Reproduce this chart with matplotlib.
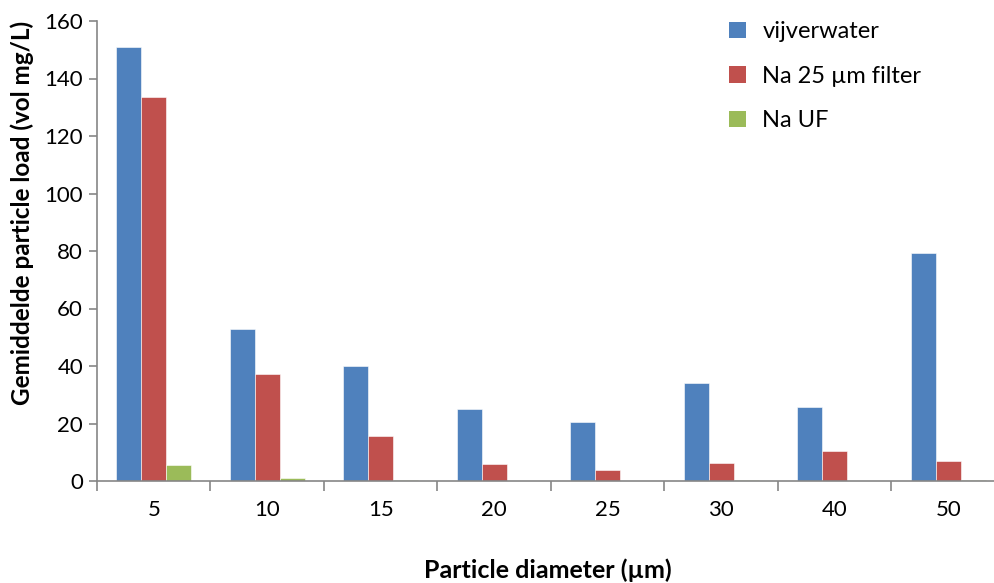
import numpy as np
import matplotlib
matplotlib.use("Agg")
import matplotlib.pyplot as plt
from matplotlib.patches import Patch

# Particle load per size class (vol mg/L)
categories = ["5", "10", "15", "20", "25", "30", "40", "50"]
vijverwater = [151.0, 52.9, 40.0, 25.0, 20.4, 34.0, 25.8, 79.3]
na_25um = [133.5, 37.3, 15.5, 5.9, 3.7, 6.2, 10.5, 7.0]
na_uf = [5.5, 1.0, 0.3, 0.1, 0.1, 0.4, 0.1, 0.5]

series = [
    ("vijverwater", vijverwater, "#4F81BD"),
    ("Na 25 µm filter", na_25um, "#C0504D"),
    ("Na UF", na_uf, "#9BBB59"),
]

AXIS = "#868686"
FS = 16
plt.rcParams["font.family"] = ["Lato", "DejaVu Sans"]

fig = plt.figure(figsize=(9.95, 5.83), dpi=100)
W, H = 995, 583
ax = fig.add_axes([97 / W, (H - 481) / H, 908 / W, 460 / H])

x = np.arange(len(categories))
width = 0.22
for i, (name, vals, color) in enumerate(series):
    ax.bar(x + (i - 1) * width, vals, width, color=color, label=name,
           edgecolor="white", linewidth=0.4)

ax.set_xlim(-0.5, len(categories) - 0.5)
ax.set_ylim(0, 160)
ax.set_yticks(range(0, 161, 20))
ax.set_xticks(x)
ax.set_xticklabels(categories)
ax.set_xticks(np.arange(-0.5, len(categories)), minor=True)

for side in ("top", "right"):
    ax.spines[side].set_visible(False)
for side in ("left", "bottom"):
    ax.spines[side].set_color(AXIS)
    ax.spines[side].set_linewidth(1.2)

ax.tick_params(axis="x", which="major", length=0, labelsize=FS, pad=14)
ax.tick_params(axis="x", which="minor", length=7, color=AXIS, width=1.2)
ax.tick_params(axis="y", length=6, color=AXIS, width=1.2, labelsize=FS, pad=4)

ax.set_ylabel("Gemiddelde particle load (vol mg/L)", fontsize=17.5,
              fontweight="bold")
ax.yaxis.set_label_coords(-(97 - 34) / 908, (481 - 213) / 460)
ax.set_xlabel("Particle diameter (µm)", fontsize=18, fontweight="bold",
              va="center")
ax.xaxis.set_label_coords((548 - 97) / 908, -(570 - 481) / 460)

handles = [Patch(facecolor=c, label=n) for n, _, c in series]
fig.legend(handles=handles, loc="upper left", bbox_to_anchor=(708 / W, 1.0),
           frameon=False, fontsize=FS + 1, handlelength=0.7, handleheight=0.7,
           handletextpad=0.7, labelspacing=1.0)

fig.savefig("out.png", dpi=100, facecolor="white")
